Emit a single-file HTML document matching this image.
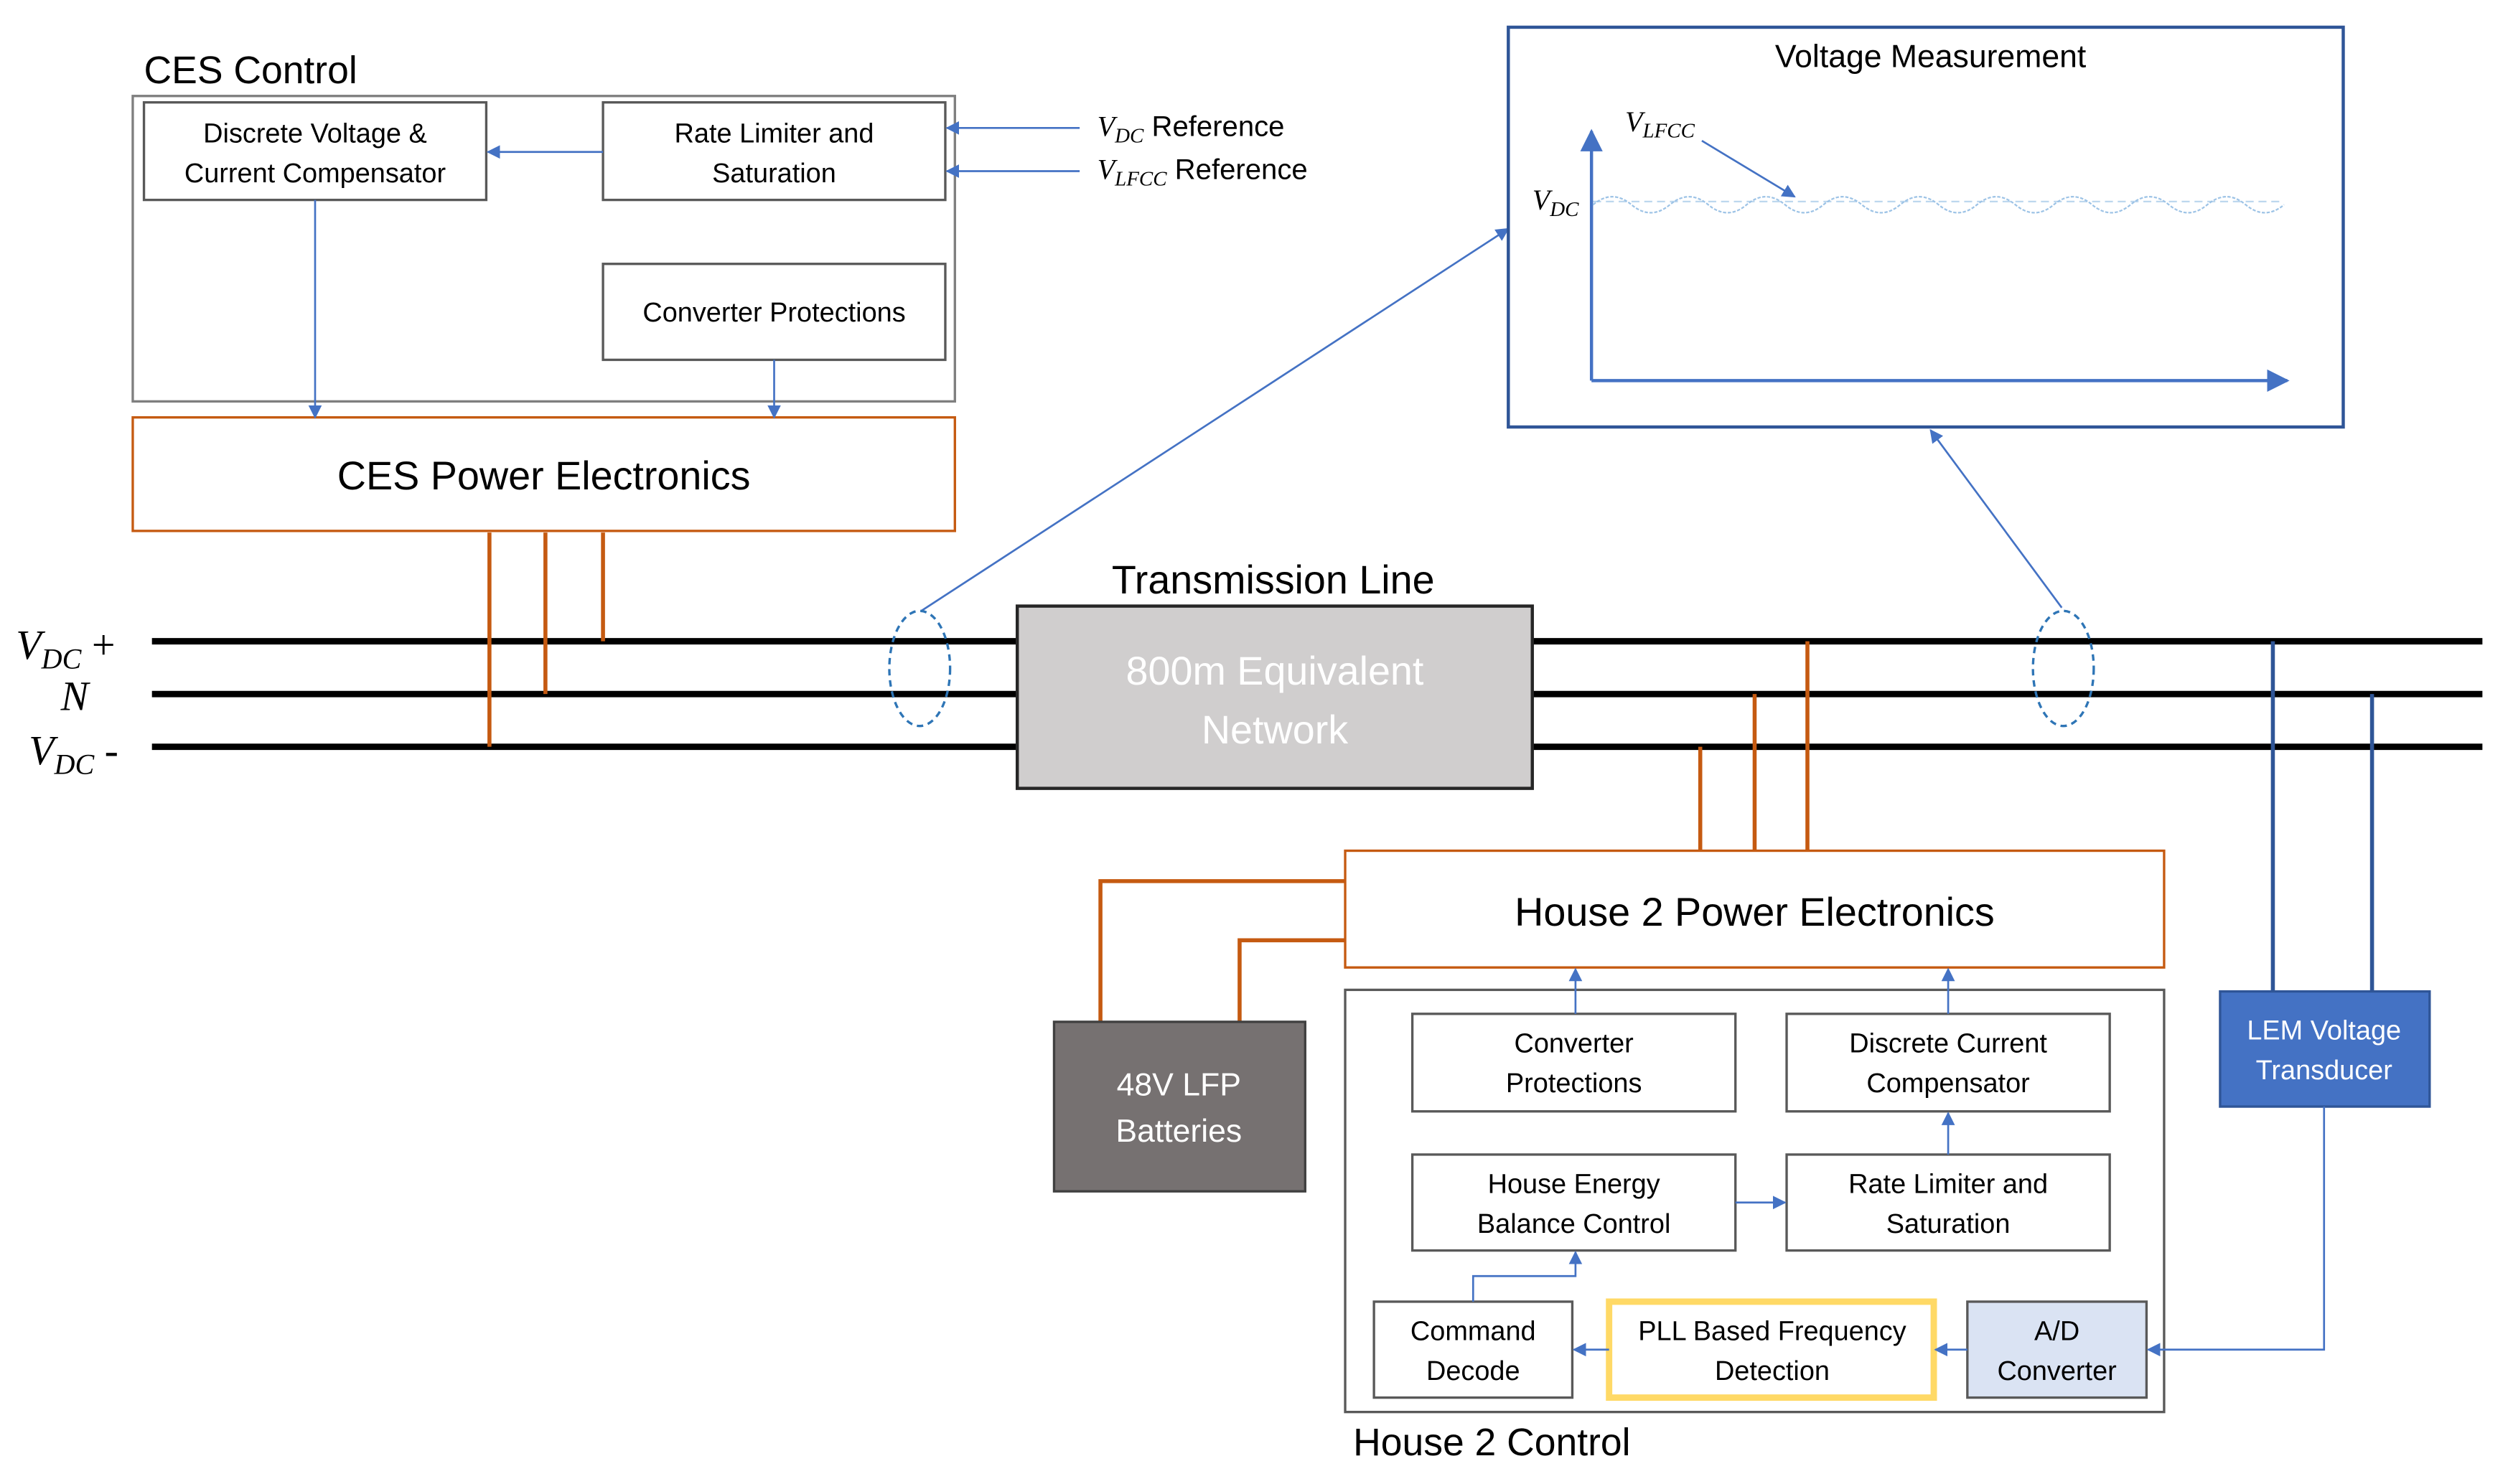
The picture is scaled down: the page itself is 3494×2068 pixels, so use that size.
<!DOCTYPE html>
<html><head><meta charset="utf-8"><style>
html,body{margin:0;padding:0;background:#fff;}
svg{display:block;}
text{font-family:"Liberation Sans",sans-serif;fill:#000;}
.m{font-family:"Liberation Serif",serif;font-style:italic;}
</style></head><body>
<svg width="3494" height="2068" viewBox="0 0 1568 928" xmlns="http://www.w3.org/2000/svg">
<defs>
<marker id="a" viewBox="0 0 10 10" refX="9" refY="5" markerWidth="7" markerHeight="7" orient="auto"><path d="M0,0L10,5L0,10z" fill="#4472c4"/></marker>
</defs>
<g fill="none" stroke-width="1.5">
<!-- CES control -->
<rect x="83" y="60" width="514" height="191" stroke="#7f7f7f"/>
<rect x="90" y="64" width="214" height="61" stroke="#595959"/>
<rect x="377" y="64" width="214" height="61" stroke="#595959"/>
<rect x="377" y="165" width="214" height="60" stroke="#595959"/>
<rect x="83" y="261" width="514" height="71" stroke="#c55a11"/>
</g>
<g stroke="#4472c4" stroke-width="1.2" fill="none" marker-end="url(#a)">
<line x1="377" y1="95" x2="305" y2="95"/>
<line x1="675" y1="80" x2="592" y2="80"/>
<line x1="675" y1="107" x2="592" y2="107"/>
<line x1="197" y1="125" x2="197" y2="261"/>
<line x1="484" y1="225" x2="484" y2="261"/>
<line x1="576" y1="382" x2="943" y2="143"/>
<line x1="1289" y1="380" x2="1207" y2="269"/>
<line x1="1064" y1="88" x2="1122" y2="123"/>
</g>
<text x="90" y="52" font-size="24">CES Control</text>
<text x="197" y="89" font-size="17" text-anchor="middle">Discrete Voltage &amp;</text>
<text x="197" y="114" font-size="17" text-anchor="middle">Current Compensator</text>
<text x="484" y="89" font-size="17" text-anchor="middle">Rate Limiter and</text>
<text x="484" y="114" font-size="17" text-anchor="middle">Saturation</text>
<text x="484" y="201" font-size="17" text-anchor="middle">Converter Protections</text>
<text x="340" y="306" font-size="25" text-anchor="middle">CES Power Electronics</text>
<text x="686" y="85" font-size="18"><tspan class="m">V<tspan font-size="13" dy="4">DC</tspan></tspan><tspan dy="-4"> Reference</tspan></text>
<text x="686" y="112" font-size="18"><tspan class="m">V<tspan font-size="13" dy="4">LFCC</tspan></tspan><tspan dy="-4"> Reference</tspan></text>
<!-- Voltage measurement -->
<rect x="943" y="17" width="522" height="250" fill="none" stroke="#2f5597" stroke-width="2"/>
<text x="1207" y="42" font-size="20" text-anchor="middle">Voltage Measurement</text>
<g stroke="#4472c4" stroke-width="2" fill="none">
<line x1="995" y1="238" x2="995" y2="82" marker-end="url(#a)"/>
<line x1="995" y1="238" x2="1430" y2="238" marker-end="url(#a)"/>
</g>
<line x1="996" y1="126" x2="1425" y2="126" stroke="#bdd7ee" stroke-dasharray="5,3"/>
<path d="M996,128 q12,-10 24,0 t24,0 t24,0 t24,0 t24,0 t24,0 t24,0 t24,0 t24,0 t24,0 t24,0 t24,0 t24,0 t24,0 t24,0 t24,0 t24,0 t24,0" stroke="#9dc3e6" stroke-dasharray="2,1" fill="none"/>
<text class="m" x="1016" y="82" font-size="18">V<tspan font-size="13" dy="4">LFCC</tspan></text>
<text class="m" x="958" y="131" font-size="18">V<tspan font-size="13" dy="4">DC</tspan></text>
<!-- bus lines -->
<g stroke="#000" stroke-width="4">
<line x1="95" y1="401" x2="1552" y2="401"/>
<line x1="95" y1="434" x2="1552" y2="434"/>
<line x1="95" y1="467" x2="1552" y2="467"/>
</g>
<text class="m" x="10" y="412" font-size="26">V<tspan font-size="18" dy="6">DC</tspan><tspan dy="-6" font-style="normal"> +</tspan></text>
<text class="m" x="38" y="444" font-size="26">N</text>
<text class="m" x="18" y="478" font-size="26">V<tspan font-size="18" dy="6">DC</tspan><tspan dy="-6" font-style="normal"> -</tspan></text>
<g stroke="#c55a11" stroke-width="2.5" fill="none">
<line x1="306" y1="333" x2="306" y2="467"/>
<line x1="341" y1="333" x2="341" y2="434"/>
<line x1="377" y1="333" x2="377" y2="401"/>
<line x1="1063" y1="467" x2="1063" y2="532"/>
<line x1="1097" y1="434" x2="1097" y2="532"/>
<line x1="1130" y1="401" x2="1130" y2="532"/>
<polyline points="841,551 688,551 688,639"/>
<polyline points="841,588 775,588 775,639"/>
</g>
<ellipse cx="575" cy="418" rx="19" ry="36" fill="none" stroke="#2e75b6" stroke-width="1.5" stroke-dasharray="4,3"/>
<ellipse cx="1290" cy="418" rx="19" ry="36" fill="none" stroke="#2e75b6" stroke-width="1.5" stroke-dasharray="4,3"/>
<rect x="636" y="379" width="322" height="114" fill="#d0cece" stroke="#262626" stroke-width="2"/>
<text x="797" y="428" font-size="25" text-anchor="middle" style="fill:#fff">800m Equivalent</text>
<text x="797" y="465" font-size="25" text-anchor="middle" style="fill:#fff">Network</text>
<text x="796" y="371" font-size="25" text-anchor="middle">Transmission Line</text>
<!-- LEM -->
<g stroke="#2f5597" stroke-width="2.5"><line x1="1421" y1="401" x2="1421" y2="620"/><line x1="1483" y1="434" x2="1483" y2="620"/></g>
<rect x="1388" y="620" width="131" height="72" fill="#4472c4" stroke="#2f5597" stroke-width="1.5"/>
<text x="1453" y="650" font-size="17" text-anchor="middle" style="fill:#fff">LEM Voltage</text>
<text x="1453" y="675" font-size="17" text-anchor="middle" style="fill:#fff">Transducer</text>
<!-- House 2 -->
<rect x="841" y="532" width="512" height="73" fill="none" stroke="#c55a11" stroke-width="1.5"/>
<text x="1097" y="579" font-size="25" text-anchor="middle">House 2 Power Electronics</text>
<rect x="659" y="639" width="157" height="106" fill="#767171" stroke="#404040" stroke-width="1.5"/>
<text x="737" y="685" font-size="20" text-anchor="middle" style="fill:#fff">48V LFP</text>
<text x="737" y="714" font-size="20" text-anchor="middle" style="fill:#fff">Batteries</text>
<rect x="841" y="619" width="512" height="264" fill="none" stroke="#595959" stroke-width="1.5"/>
<g fill="none" stroke="#595959" stroke-width="1.5">
<rect x="883" y="634" width="202" height="61"/>
<rect x="1117" y="634" width="202" height="61"/>
<rect x="883" y="722" width="202" height="60"/>
<rect x="1117" y="722" width="202" height="60"/>
<rect x="859" y="814" width="124" height="60"/>
</g>
<rect x="1006" y="814" width="203" height="60" fill="none" stroke="#ffd966" stroke-width="4"/>
<rect x="1230" y="814" width="112" height="60" fill="#dae3f3" stroke="#595959" stroke-width="1.5"/>
<g stroke="#4472c4" stroke-width="1.2" fill="none" marker-end="url(#a)">
<line x1="985" y1="634" x2="985" y2="606"/>
<line x1="1218" y1="634" x2="1218" y2="606"/>
<line x1="1218" y1="722" x2="1218" y2="696"/>
<line x1="1085" y1="752" x2="1116" y2="752"/>
<polyline points="921,814 921,798 985,798 985,783"/>
<line x1="1006" y1="844" x2="984" y2="844"/>
<line x1="1230" y1="844" x2="1210" y2="844"/>
<polyline points="1453,692 1453,844 1343,844"/>
</g>
<g font-size="17" text-anchor="middle">
<text x="984" y="658">Converter</text><text x="984" y="683">Protections</text>
<text x="1218" y="658">Discrete Current</text><text x="1218" y="683">Compensator</text>
<text x="984" y="746">House Energy</text><text x="984" y="771">Balance Control</text>
<text x="1218" y="746">Rate Limiter and</text><text x="1218" y="771">Saturation</text>
<text x="921" y="838">Command</text><text x="921" y="863">Decode</text>
<text x="1108" y="838">PLL Based Frequency</text><text x="1108" y="863">Detection</text>
<text x="1286" y="838">A/D</text><text x="1286" y="863">Converter</text>
</g>
<text x="846" y="910" font-size="24">House 2 Control</text>
</svg>
</body></html>
